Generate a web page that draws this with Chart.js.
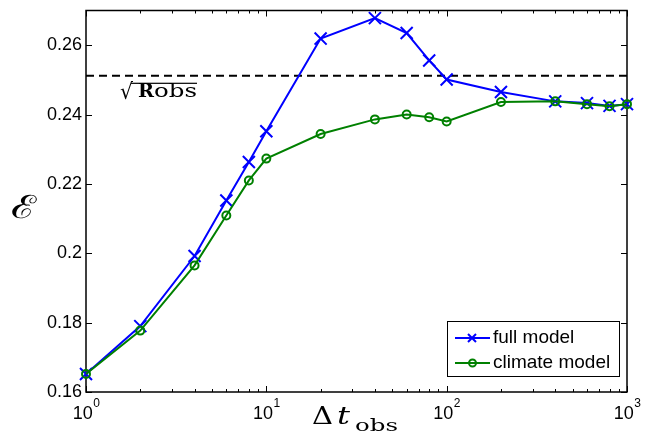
<!DOCTYPE html>
<html>
<head>
<meta charset="utf-8">
<script src="https://cdn.jsdelivr.net/npm/chart.js@4"></script>
<style>
  html, body { margin: 0; padding: 0; background: #fff; }
  #wrap { width: 665px; height: 436px; }
</style>
</head>
<body>
<div id="wrap"><canvas id="chart" width="665" height="436"></canvas></div>
<script>
// ── Data ──
const dtObs = [1, 2, 4, 6, 8, 10, 20, 40, 60, 80, 100, 200, 400, 600, 800, 1000];
const fullModel = [0.1652, 0.1790, 0.1992, 0.2152, 0.2263, 0.2352, 0.2619, 0.2678,
                   0.2635, 0.2556, 0.2501, 0.2465, 0.2438, 0.2433, 0.2425, 0.2430];
const climateModel = [0.1652, 0.1777, 0.1965, 0.2109, 0.2210, 0.2273, 0.2344, 0.2386,
                      0.2400, 0.2392, 0.2380, 0.2436, 0.2438, 0.2430, 0.2424, 0.2430];
const sqrtRobs = 0.2512;
const yTicks = [0.16, 0.18, 0.2, 0.22, 0.24, 0.26];
const xDecades = [0, 1, 2, 3];

const BLUE = '#0000ff';
const GREEN = '#008000';
const TICK_FONT = '18px "Liberation Sans", Arial, sans-serif';

const toPoints = ys => dtObs.map((x, i) => ({ x, y: ys[i] }));

// draw text squeezed/stretched to a given width
function fitText(ctx, text, x, y, width, font) {
  ctx.save();
  ctx.font = font;
  const w = ctx.measureText(text).width;
  ctx.translate(x, y);
  ctx.scale(width / w, 1);
  ctx.fillText(text, 0, 0);
  ctx.restore();
}

// ── Frame + inward ticks (drawn under the lines) ──
const framePlugin = {
  id: 'frame',
  beforeDatasetsDraw(chart) {
    const { ctx, chartArea: a, scales: { x, y } } = chart;
    ctx.save();
    ctx.strokeStyle = '#000';
    ctx.lineWidth = 1;
    ctx.beginPath();
    // x ticks, major and minor, bottom and top
    xDecades.forEach(d => {
      for (let m = 1; m <= 9; m++) {
        const v = m * Math.pow(10, d);
        if (v > 1000) break;
        const px = Math.round(x.getPixelForValue(v)) + 0.5;
        const len = m === 1 ? 6 : 3;
        ctx.moveTo(px, a.bottom); ctx.lineTo(px, a.bottom - len);
        ctx.moveTo(px, a.top); ctx.lineTo(px, a.top + len);
      }
    });
    // y ticks, left and right
    yTicks.forEach(v => {
      const py = Math.round(y.getPixelForValue(v)) + 0.5;
      ctx.moveTo(a.left, py); ctx.lineTo(a.left + 6, py);
      ctx.moveTo(a.right, py); ctx.lineTo(a.right - 6, py);
    });
    ctx.stroke();
    ctx.lineWidth = 1.5;
    ctx.strokeRect(a.left, a.top, a.right - a.left, a.bottom - a.top);
    ctx.restore();
  }
};

// ── Tick labels, axis titles, annotation, legend ──
const labelsPlugin = {
  id: 'labels',
  afterDraw(chart) {
    const { ctx, chartArea: a, scales: { x, y } } = chart;
    ctx.save();
    ctx.fillStyle = '#000';

    // y tick labels
    ctx.font = TICK_FONT;
    ctx.textAlign = 'right';
    ctx.textBaseline = 'middle';
    yTicks.forEach(v => ctx.fillText(String(v), a.left - 4, y.getPixelForValue(v)));

    // x tick labels as 10^n
    ctx.textAlign = 'left';
    ctx.textBaseline = 'alphabetic';
    xDecades.forEach(d => {
      const px = x.getPixelForValue(Math.pow(10, d));
      ctx.font = TICK_FONT;
      const wBase = ctx.measureText('10').width;
      ctx.font = '12px "Liberation Sans", Arial, sans-serif';
      const wExp = ctx.measureText(String(d)).width;
      const left = px - (wBase + wExp) / 2;
      ctx.font = TICK_FONT;
      ctx.fillText('10', left, 419);
      ctx.font = '12px "Liberation Sans", Arial, sans-serif';
      ctx.fillText(String(d), left + wBase + 0.5, 407);
    });

    // y axis title
    fitText(ctx, '\u2130', 11, 218, 25, '32px "DejaVu Serif", serif');

    // x axis title: Δt_obs
    fitText(ctx, '\u0394', 312, 424, 21, '24px "DejaVu Serif", serif');
    fitText(ctx, 't', 337, 424, 13, 'italic 24px "DejaVu Serif", serif');
    fitText(ctx, 'obs', 355, 431, 43, '17px "DejaVu Serif", serif');

    // label under the dashed reference line
    const lineY = y.getPixelForValue(sqrtRobs);
    fitText(ctx, '\u221a', 120, 99, 13, '22px "DejaVu Serif", serif');
    fitText(ctx, 'R', 138, 97, 16, 'bold 19px "DejaVu Serif", serif');
    fitText(ctx, 'obs', 154, 97, 43, '19px "DejaVu Serif", serif');
    ctx.fillRect(131, lineY + 7, 66, 1.2);

    // legend
    const lx = 447.5, ly = 321.5, lw = 172, lh = 55;
    ctx.fillStyle = '#fff';
    ctx.fillRect(lx, ly, lw, lh);
    ctx.strokeStyle = '#000';
    ctx.lineWidth = 1;
    ctx.strokeRect(lx, ly, lw, lh);
    const rows = [
      { label: 'full model', color: BLUE, y: 338, marker: 'x' },
      { label: 'climate model', color: GREEN, y: 363, marker: 'o' }
    ];
    rows.forEach(r => {
      ctx.strokeStyle = r.color;
      ctx.lineWidth = 2;
      ctx.beginPath();
      ctx.moveTo(455, r.y); ctx.lineTo(490, r.y);
      ctx.stroke();
      ctx.beginPath();
      if (r.marker === 'x') {
        ctx.moveTo(468, r.y - 4); ctx.lineTo(476, r.y + 4);
        ctx.moveTo(476, r.y - 4); ctx.lineTo(468, r.y + 4);
      } else {
        ctx.arc(472.5, r.y, 3.5, 0, Math.PI * 2);
      }
      ctx.stroke();
      ctx.fillStyle = '#000';
      ctx.font = '19px "Liberation Sans", Arial, sans-serif';
      ctx.textAlign = 'left';
      ctx.textBaseline = 'middle';
      ctx.fillText(r.label, 493, r.y);
    });
    ctx.restore();
  }
};

new Chart(document.getElementById('chart'), {
  type: 'line',
  data: {
    datasets: [{
      label: 'climate model',
      data: toPoints(climateModel),
      borderColor: GREEN,
      backgroundColor: 'transparent',
      borderWidth: 2,
      pointStyle: 'circle',
      pointRadius: 4,
      pointBorderWidth: 2,
      pointBorderColor: GREEN,
      pointBackgroundColor: 'transparent',
      tension: 0, clip: false, order: 0
    }, {
      label: 'full model',
      data: toPoints(fullModel),
      borderColor: BLUE,
      backgroundColor: 'transparent',
      borderWidth: 2,
      pointStyle: 'crossRot',
      pointRadius: 8.5,
      pointBorderWidth: 2,
      pointBorderColor: BLUE,
      tension: 0, clip: false, order: 1
    }, {
      label: 'sqrt Robs',
      data: [{ x: dtObs[0], y: sqrtRobs }, { x: dtObs[dtObs.length - 1], y: sqrtRobs }],
      borderColor: '#000',
      borderWidth: 2,
      borderDash: [8, 5],
      pointRadius: 0,
      clip: false, order: 2
    }]
  },
  options: {
    responsive: false,
    animation: false,
    layout: { padding: { left: 86, right: 38, top: 3, bottom: 44 } },
    plugins: { legend: { display: false }, tooltip: { enabled: false } },
    scales: {
      x: { type: 'logarithmic', min: 1, max: 1000, display: false },
      y: { type: 'linear', min: 0.16, max: 0.27, display: false }
    }
  },
  plugins: [framePlugin, labelsPlugin]
});
</script>
</body>
</html>
